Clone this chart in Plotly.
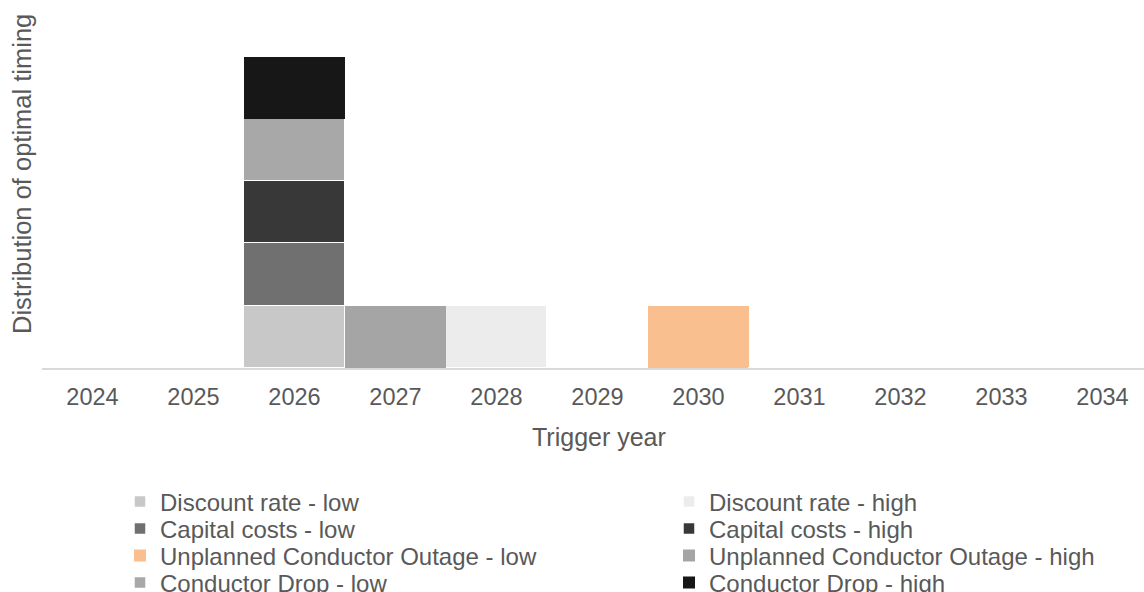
import plotly.graph_objects as go

years = ["2024", "2025", "2026", "2027", "2028", "2029", "2030", "2031", "2032", "2033", "2034"]

series_names = [
    "Discount rate - low", "Discount rate - high",
    "Capital costs - low", "Capital costs - high",
    "Unplanned Conductor Outage - low", "Unplanned Conductor Outage - high",
    "Conductor Drop - low", "Conductor Drop - high",
]
discount_low = [0, 0, 1, 0, 0, 0, 0, 0, 0, 0, 0]
discount_high = [0, 0, 0, 0, 1, 0, 0, 0, 0, 0, 0]
capital_low = [0, 0, 1, 0, 0, 0, 0, 0, 0, 0, 0]
capital_high = [0, 0, 1, 0, 0, 0, 0, 0, 0, 0, 0]
outage_low = [0, 0, 0, 0, 0, 0, 1, 0, 0, 0, 0]
outage_high = [0, 0, 0, 1, 0, 0, 0, 0, 0, 0, 0]
drop_low = [0, 0, 1, 0, 0, 0, 0, 0, 0, 0, 0]
drop_high = [0, 0, 1, 0, 0, 0, 0, 0, 0, 0, 0]

series_values = [discount_low, discount_high, capital_low, capital_high,
                 outage_low, outage_high, drop_low, drop_high]
colors = ["#c8c8c8", "#ececec", "#707070", "#383838",
          "#fabf8f", "#a5a5a5", "#a8a8a8", "#171717"]
borders = [1.5, 1.5, 1.5, 1.5, 0, 0, 1.5, 0]

W, H = 1144, 592
L, R, T, B = 42, 0, 26, 224
plot_w = W - L - R
plot_h = H - T - B
block_px = 62.3
cat_px = 101.0

def px_x(p):
    return (p - L) / plot_w

def px_y(p):
    return (H - B - p) / plot_h

TEXT = "#595959"
FONT = "Liberation Sans, Arial, sans-serif"

fig = go.Figure()
legend_pos = [
    (120, 502), (669, 502),
    (120, 529), (669, 529),
    (120, 556), (669, 556),
    (120, 583), (669, 583),
]
layout_legends = {}
for i, (name, vals, col, bw) in enumerate(zip(series_names, series_values, colors, borders)):
    lname = "legend" if i == 0 else f"legend{i+1}"
    fig.add_trace(go.Bar(
        x=years, y=vals, name=name,
        marker=dict(color=col, line=dict(color="white", width=bw)),
        legend=lname, showlegend=True,
    ))
    lx, ly = legend_pos[i]
    layout_legends[lname] = dict(
        x=px_x(lx), y=px_y(ly), xanchor="left", yanchor="middle",
        xref="paper", yref="paper",
        font=dict(family=FONT, size=24, color=TEXT),
        bgcolor="rgba(0,0,0,0)", itemwidth=30, borderwidth=0,
        orientation="v",
    )

fig.update_layout(
    width=W, height=H,
    margin=dict(l=L, r=R, t=T, b=B, pad=0, autoexpand=False),
    barmode="stack", bargap=0,
    plot_bgcolor="white", paper_bgcolor="white",
    font=dict(family=FONT, size=24, color=TEXT),
    **layout_legends,
)
fig.update_xaxes(
    type="category", range=[-0.5, -0.5 + plot_w / cat_px],
    showline=True, linecolor="#d9d9d9", linewidth=2,
    showgrid=False, ticks="", zeroline=False,
    ticklabelstandoff=7, automargin=False,
    tickfont=dict(family=FONT, size=23.5, color=TEXT),
)
fig.update_yaxes(
    range=[0, plot_h / block_px], visible=False, showgrid=False, zeroline=False,
)
fig.add_annotation(
    text="Trigger year", x=px_x(598.5), y=px_y(437), xref="paper", yref="paper",
    xanchor="center", yanchor="middle", showarrow=False,
    font=dict(family=FONT, size=25, color=TEXT),
)
fig.add_annotation(
    text="Distribution of optimal timing", x=px_x(22), y=px_y(174), xref="paper", yref="paper",
    xanchor="center", yanchor="middle", showarrow=False, textangle=-90,
    font=dict(family=FONT, size=25.5, color=TEXT),
)

fig.write_html("out.html")
